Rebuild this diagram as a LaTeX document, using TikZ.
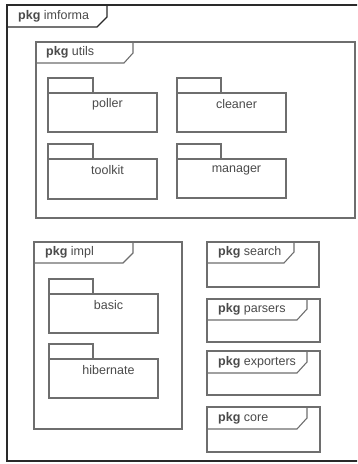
\documentclass[tikz,border=0pt]{standalone}
\usepackage{fontspec}
\setmainfont{Liberation Sans}
\usepackage{xcolor}
\usepackage{tikz}
\definecolor{pkggray}{HTML}{6E6E6E}
\definecolor{pkgtext}{HTML}{4A4A4A}
\definecolor{pkgdark}{HTML}{2A2A2A}
\tikzset{
  pkgline/.style={draw=pkggray, line width=1.1pt},
  outerline/.style={draw=pkgdark, line width=1.1pt},
  pkglabel/.style={anchor=west, inner sep=0pt, text=pkgtext},
  pkgname/.style={inner sep=0pt, text=pkgtext},
}

\begin{document}
\begin{tikzpicture}[x=1pt, y=-1pt, font=\fontsize{12.5}{14}\selectfont, line join=miter]
      % page: 1 pt = 1 px of the reference
      \useasboundingbox[fill=white] (0,0) rectangle (357,464);
      \clip (0,0) rectangle (357,464);
      % outer frame
      \draw[outerline] (7,5) rectangle (380,461);
      \draw[outerline] (7,27) -- (97,27) -- (107,17) -- (107,5);
      \node[pkglabel] (imforma) at (18,16) {\textbf{pkg} imforma};
      % utils
      \draw[pkgline] (36,42) rectangle (355,218);
      \draw[pkgline] (36,63) -- (124,63) -- (133,53) -- (133,42);
      \node[pkglabel] (utils) at (46,52.5) {\textbf{pkg} utils};
      \draw[pkgline] (48,78) rectangle (93,93);
      \draw[pkgline] (48,93) rectangle (157,132);
      \node[pkgname] (poller) at (107.5,104.5) {poller};
      \draw[pkgline] (177,78) rectangle (221,93);
      \draw[pkgline] (177,93) rectangle (286,132);
      \node[pkgname] (cleaner) at (236.5,104.5) {cleaner};
      \draw[pkgline] (48,144) rectangle (93,159);
      \draw[pkgline] (48,159) rectangle (157,199);
      \node[pkgname] (toolkit) at (107.5,170.5) {toolkit};
      \draw[pkgline] (177,144) rectangle (221,159);
      \draw[pkgline] (177,159) rectangle (286,198);
      \node[pkgname] (manager) at (236.5,170.5) {manager};
      % impl
      \draw[pkgline] (34,242) rectangle (182,429);
      \draw[pkgline] (34,263) -- (123,263) -- (133,253) -- (133,242);
      \node[pkglabel] (impl) at (45,252.5) {\textbf{pkg} impl};
      \draw[pkgline] (49,279) rectangle (93,294);
      \draw[pkgline] (49,294) rectangle (158,333);
      \node[pkgname] (basic) at (108.5,305.5) {basic};
      \draw[pkgline] (49,344) rectangle (93,359);
      \draw[pkgline] (49,359) rectangle (158,398);
      \node[pkgname] (hibernate) at (108.5,370.5) {hibernate};
      % right column
      \draw[pkgline] (207,242) rectangle (319,287);
      \draw[pkgline] (207,263) -- (284,263) -- (294,252) -- (294,242);
      \node[pkglabel] (search) at (218,252.5) {\textbf{pkg} search};
      \draw[pkgline] (207,299) rectangle (320,342);
      \draw[pkgline] (207,320) -- (297,320) -- (307,309) -- (307,299);
      \node[pkglabel] (parsers) at (218,309.5) {\textbf{pkg} parsers};
      \draw[pkgline] (207,351) rectangle (320,395);
      \draw[pkgline] (207,373) -- (297,373) -- (307,362) -- (307,351);
      \node[pkglabel] (exporters) at (218,362) {\textbf{pkg} exporters};
      \draw[pkgline] (207,407) rectangle (320,452);
      \draw[pkgline] (207,429) -- (297,429) -- (307,418) -- (307,407);
      \node[pkglabel] (core) at (218,418) {\textbf{pkg} core};
    \end{tikzpicture}
\end{document}
